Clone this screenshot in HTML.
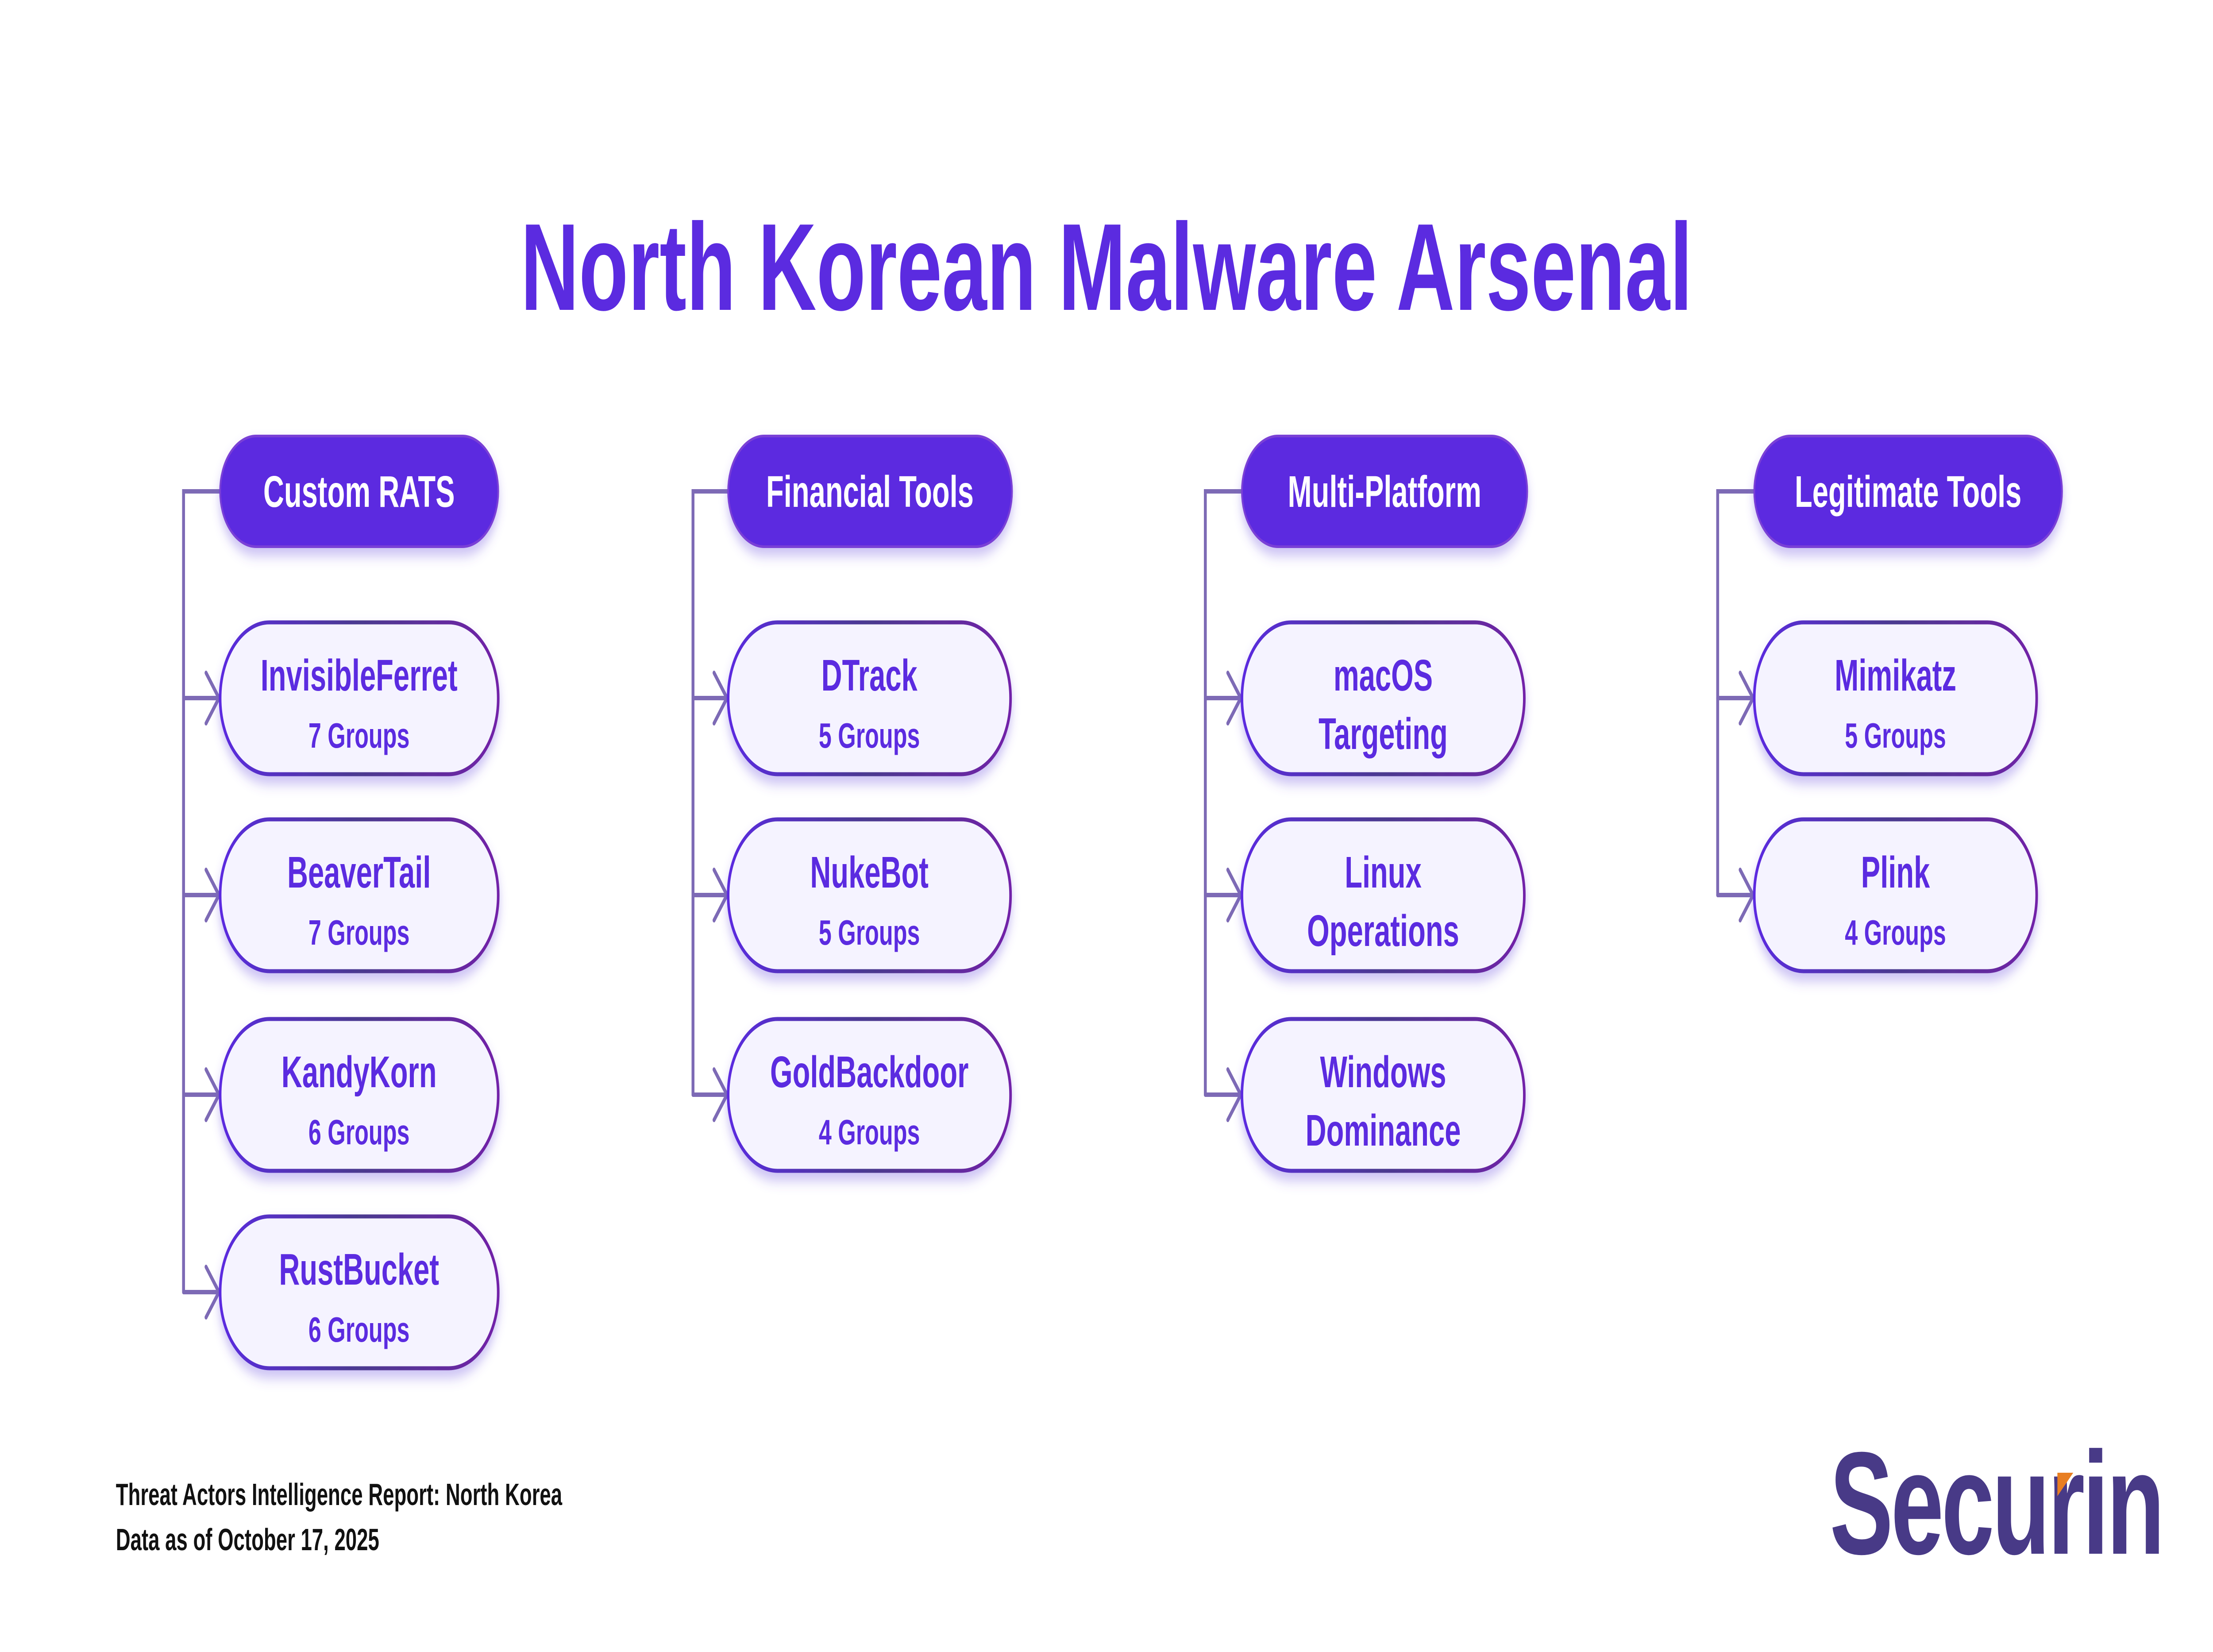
<!DOCTYPE html>
<html><head><meta charset="utf-8"><style>
html,body{margin:0;padding:0;background:#fff;width:100%;height:100%;overflow:hidden;}
svg{display:block;width:100vw;height:100vh;}
text{font-family:"Liberation Sans",sans-serif;font-weight:bold;}
</style></head><body>
<svg viewBox="0 0 7680 3732" preserveAspectRatio="none" xmlns="http://www.w3.org/2000/svg">
<defs>
<filter id="sh" x="-10%" y="-20%" width="120%" height="150%"><feDropShadow dx="0" dy="18" stdDeviation="14" flood-color="#6a4ee0" flood-opacity="0.35"/></filter>
<linearGradient id="bd" x1="0" x2="1" y1="0" y2="0"><stop offset="0" stop-color="#5b2be0"/><stop offset="0.5" stop-color="#4b3a8f"/><stop offset="1" stop-color="#7222a8"/></linearGradient>
</defs>
<rect width="7680" height="3732" fill="#fff"/>
<text x="3840" y="700" text-anchor="middle" font-size="280" fill="#5b2be0">North Korean Malware Arsenal</text>

<g stroke="#7d6ab5" stroke-width="10" fill="none" stroke-linecap="round">
<path d="M764 1110 H637 V2919"/>
<path d="M637 1577 H760 M715 1520 L760 1577 L715 1634"/>
<path d="M637 2022 H760 M715 1965 L760 2022 L715 2079"/>
<path d="M637 2473 H760 M715 2416 L760 2473 L715 2530"/>
<path d="M637 2919 H760 M715 2862 L760 2919 L715 2976"/>
<path d="M2527 1110 H2405 V2473"/>
<path d="M2405 1577 H2523 M2478 1520 L2523 1577 L2478 1634"/>
<path d="M2405 2022 H2523 M2478 1965 L2523 2022 L2478 2079"/>
<path d="M2405 2473 H2523 M2478 2416 L2523 2473 L2478 2530"/>
<path d="M4310 1110 H4183 V2473"/>
<path d="M4183 1577 H4306 M4261 1520 L4306 1577 L4261 1634"/>
<path d="M4183 2022 H4306 M4261 1965 L4306 2022 L4261 2079"/>
<path d="M4183 2473 H4306 M4261 2416 L4306 2473 L4261 2530"/>
<path d="M6088 1110 H5961 V2022"/>
<path d="M5961 1577 H6084 M6039 1520 L6084 1577 L6039 1634"/>
<path d="M5961 2022 H6084 M6039 1965 L6084 2022 L6039 2079"/>
</g>

<g filter="url(#sh)">
<rect x="764" y="985" width="965" height="250" rx="125" fill="#5b2be0" stroke="#7a3fd6" stroke-width="6"/>
<rect x="2527" y="985" width="985" height="250" rx="125" fill="#5b2be0" stroke="#7a3fd6" stroke-width="6"/>
<rect x="4310" y="985" width="990" height="250" rx="125" fill="#5b2be0" stroke="#7a3fd6" stroke-width="6"/>
<rect x="6088" y="985" width="1068" height="250" rx="125" fill="#5b2be0" stroke="#7a3fd6" stroke-width="6"/>
</g>
<g fill="#fff" font-size="100" text-anchor="middle">
<text x="1246" y="1145">Custom RATS</text>
<text x="3019" y="1145">Financial Tools</text>
<text x="4805" y="1145">Multi-Platform</text>
<text x="6622" y="1145">Legitimate Tools</text>
</g>

<g filter="url(#sh)" fill="#f5f3ff" stroke="url(#bd)" stroke-width="9">
<rect x="764" y="1406" width="965" height="343" rx="171"/>
<rect x="764" y="1851" width="965" height="343" rx="171"/>
<rect x="764" y="2302" width="965" height="343" rx="171"/>
<rect x="764" y="2748" width="965" height="343" rx="171"/>
<rect x="2527" y="1406" width="980" height="343" rx="171"/>
<rect x="2527" y="1851" width="980" height="343" rx="171"/>
<rect x="2527" y="2302" width="980" height="343" rx="171"/>
<rect x="4310" y="1406" width="980" height="343" rx="171"/>
<rect x="4310" y="1851" width="980" height="343" rx="171"/>
<rect x="4310" y="2302" width="980" height="343" rx="171"/>
<rect x="6088" y="1406" width="980" height="343" rx="171"/>
<rect x="6088" y="1851" width="980" height="343" rx="171"/>
</g>
<g fill="#5b2be0" text-anchor="middle">
<g font-size="100">
<text x="1246" y="1560">InvisibleFerret</text>
<text x="1246" y="2005">BeaverTail</text>
<text x="1246" y="2456">KandyKorn</text>
<text x="1246" y="2902">RustBucket</text>
<text x="3017" y="1560">DTrack</text>
<text x="3017" y="2005">NukeBot</text>
<text x="3017" y="2456">GoldBackdoor</text>
<text x="4800" y="1560">macOS</text>
<text x="4800" y="1692">Targeting</text>
<text x="4800" y="2005">Linux</text>
<text x="4800" y="2137">Operations</text>
<text x="4800" y="2456">Windows</text>
<text x="4800" y="2588">Dominance</text>
<text x="6578" y="1560">Mimikatz</text>
<text x="6578" y="2005">Plink</text>
</g>
<g font-size="80">
<text x="1246" y="1689">7 Groups</text>
<text x="1246" y="2134">7 Groups</text>
<text x="1246" y="2585">6 Groups</text>
<text x="1246" y="3031">6 Groups</text>
<text x="3017" y="1689">5 Groups</text>
<text x="3017" y="2134">5 Groups</text>
<text x="3017" y="2585">4 Groups</text>
<text x="6578" y="1689">5 Groups</text>
<text x="6578" y="2134">4 Groups</text>
</g>
</g>

<g fill="#111" font-size="70">
<text x="402" y="3400">Threat Actors Intelligence Report: North Korea</text>
<text x="402" y="3502">Data as of October 17, 2025</text>
</g>

<text x="6350" y="3510" font-size="330" fill="#483a87" letter-spacing="-8">Securin</text>
<polygon points="7140,3327 7195,3327 7140,3380" fill="#e87e22"/>
</svg>
</body></html>
